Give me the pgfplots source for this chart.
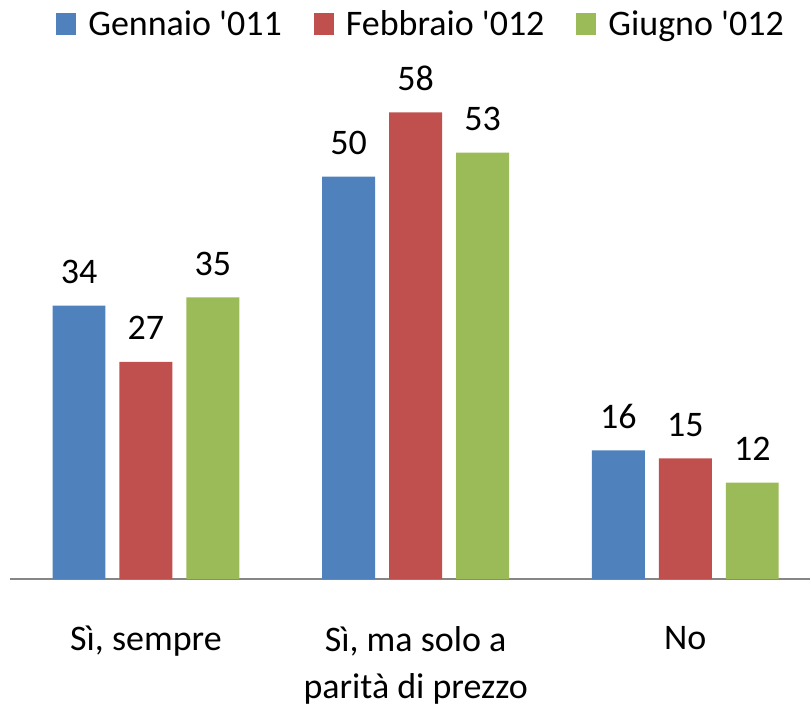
\documentclass[border=0pt]{standalone}
\usepackage{fontspec}
\setmainfont{Carlito}
\usepackage{pgfplots}
\pgfplotsset{compat=1.18}

\definecolor{cblue}{HTML}{4F81BD}
\definecolor{cred}{HTML}{C0504D}
\definecolor{cgreen}{HTML}{9BBB59}
\definecolor{axgray}{HTML}{868686}

\begin{document}
\begin{tikzpicture}
\begin{axis}[
    scale only axis,
    width=400.5pt, height=282pt,
    ybar=7pt, bar width=26.5pt,
    xmin=-0.504, xmax=2.463,
    ymin=0, ymax=70,
    axis y line=none,
    axis x line*=bottom,
    x axis line style={axgray, line width=0.8pt, -},
    xtick={0,1,2},
    xticklabels={{Sì, sempre},{Sì, ma solo a\\parità di prezzo},{No}},
    major tick length=0pt,
    xticklabel style={align=center, font=\fontsize{18}{23.5}\selectfont, yshift=-20pt},
    /pgf/number format/assume math mode=true,
    nodes near coords,
    every node near coord/.append style={font=\fontsize{18}{22}\selectfont, black, yshift=7.5pt},
    legend style={
        at={(rel axis cs:0.515,0.984)}, anchor=center,
        draw=none, fill=none,
        legend columns=-1,
        font=\fontsize{18}{22}\selectfont,
        /tikz/every odd column/.append style={column sep=4pt},
        /tikz/every even column/.append style={column sep=14pt},
    },
    legend image code/.code={\fill[#1] (0pt,-5pt) rectangle (10pt,6pt);},
    clip=false,
]
\addplot[draw=none, fill=cblue] coordinates {(0,34) (1,50) (2,16)};
\addplot[draw=none, fill=cred] coordinates {(0,27) (1,58) (2,15)};
\addplot[draw=none, fill=cgreen] coordinates {(0,35) (1,53) (2,12)};
\legend{Gennaio \textquotesingle 011, Febbraio \textquotesingle 012, Giugno \textquotesingle 012}
\path (rel axis cs:-0.0125,-0.216) rectangle (rel axis cs:1,1.028);
\end{axis}
\end{tikzpicture}
\end{document}
